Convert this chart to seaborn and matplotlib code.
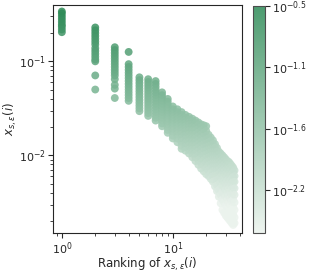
import numpy as np
import pandas as pd
import matplotlib
matplotlib.use("Agg")
import matplotlib.pyplot as plt
import seaborn as sns
from matplotlib.colors import Normalize, ListedColormap

# log10 of x_s,eps(i), one list per ranking position (1..36)
ranks = list(range(1, 37))
log_values = [
    [-0.47, -0.49, -0.52, -0.55, -0.58, -0.61, -0.63, -0.66, -0.69],
    [-0.64, -0.67, -0.70, -0.73, -0.76, -0.79, -0.82, -0.86, -0.89, -0.92, -0.95, -0.98, -1.00, -1.15, -1.30],
    [-0.85, -0.88, -0.91, -0.94, -0.97, -1.00, -1.03, -1.06, -1.09, -1.12, -1.15, -1.19, -1.25, -1.29, -1.39],
    [-0.90, -1.03, -1.06, -1.09, -1.12, -1.15, -1.18, -1.21, -1.24, -1.27, -1.30, -1.33, -1.36, -1.39, -1.42],
    [-1.17, -1.20, -1.23, -1.26, -1.29, -1.32, -1.35, -1.38, -1.41, -1.44, -1.47, -1.50, -1.53],
    [-1.19, -1.22, -1.25, -1.28, -1.31, -1.34, -1.37, -1.40, -1.43, -1.46, -1.49, -1.52, -1.55, -1.58],
    [-1.21, -1.24, -1.27, -1.30, -1.33, -1.36, -1.39, -1.42, -1.45, -1.48, -1.51, -1.54, -1.57, -1.60, -1.63],
    [-1.33, -1.36, -1.39, -1.42, -1.45, -1.48, -1.51, -1.54, -1.57, -1.60, -1.63, -1.66, -1.69],
    [-1.40, -1.43, -1.46, -1.49, -1.52, -1.55, -1.58, -1.61, -1.64, -1.67, -1.70, -1.73, -1.76],
    [-1.48, -1.51, -1.54, -1.57, -1.60, -1.63, -1.66, -1.69, -1.72, -1.75, -1.79, -1.82],
    [-1.51, -1.54, -1.57, -1.60, -1.63, -1.66, -1.69, -1.72, -1.75, -1.78, -1.82, -1.86],
    [-1.54, -1.57, -1.60, -1.63, -1.66, -1.69, -1.72, -1.75, -1.78, -1.82, -1.86, -1.90, -1.93],
    [-1.57, -1.60, -1.63, -1.66, -1.69, -1.72, -1.75, -1.79, -1.83, -1.87, -1.91, -1.95],
    [-1.59, -1.62, -1.65, -1.68, -1.71, -1.74, -1.78, -1.82, -1.86, -1.90, -1.94, -1.98],
    [-1.61, -1.64, -1.67, -1.70, -1.74, -1.78, -1.82, -1.86, -1.90, -1.94, -1.98, -2.02],
    [-1.63, -1.66, -1.70, -1.74, -1.78, -1.82, -1.86, -1.90, -1.94, -1.98, -2.02, -2.06],
    [-1.65, -1.68, -1.72, -1.76, -1.80, -1.84, -1.88, -1.92, -1.96, -2.00, -2.05, -2.10],
    [-1.67, -1.70, -1.74, -1.78, -1.82, -1.86, -1.90, -1.94, -1.98, -2.03, -2.08, -2.14],
    [-1.68, -1.72, -1.76, -1.80, -1.84, -1.88, -1.92, -1.96, -2.00, -2.05, -2.11, -2.17],
    [-1.69, -1.74, -1.79, -1.83, -1.87, -1.91, -1.95, -1.99, -2.03, -2.08, -2.14, -2.20],
    [-1.78, -1.82, -1.86, -1.90, -1.94, -1.98, -2.02, -2.06, -2.11, -2.16, -2.22],
    [-1.81, -1.85, -1.89, -1.93, -1.97, -2.01, -2.05, -2.09, -2.14, -2.19, -2.25],
    [-1.84, -1.88, -1.92, -1.96, -2.00, -2.04, -2.08, -2.12, -2.17, -2.22, -2.28],
    [-1.88, -1.92, -1.96, -2.00, -2.04, -2.08, -2.12, -2.16, -2.21, -2.27, -2.33],
    [-1.92, -1.96, -2.00, -2.04, -2.08, -2.12, -2.16, -2.21, -2.26, -2.32, -2.38],
    [-1.96, -2.00, -2.04, -2.08, -2.12, -2.16, -2.20, -2.25, -2.31, -2.37, -2.44],
    [-1.98, -2.02, -2.06, -2.10, -2.14, -2.18, -2.23, -2.29, -2.35, -2.42, -2.51],
    [-2.00, -2.04, -2.08, -2.12, -2.16, -2.21, -2.26, -2.32, -2.39, -2.47, -2.58],
    [-2.02, -2.06, -2.10, -2.14, -2.18, -2.23, -2.28, -2.34, -2.41, -2.50, -2.61],
    [-2.04, -2.08, -2.12, -2.16, -2.20, -2.25, -2.30, -2.37, -2.44, -2.53, -2.64],
    [-2.06, -2.10, -2.14, -2.18, -2.22, -2.27, -2.33, -2.40, -2.48, -2.57, -2.66],
    [-2.07, -2.11, -2.15, -2.20, -2.25, -2.30, -2.36, -2.43, -2.51, -2.60, -2.68],
    [-2.09, -2.13, -2.17, -2.22, -2.27, -2.33, -2.39, -2.46, -2.54, -2.63, -2.70],
    [-2.11, -2.15, -2.20, -2.25, -2.30, -2.36, -2.42, -2.49, -2.57, -2.66, -2.72],
    [-2.13, -2.18, -2.23, -2.28, -2.34, -2.40, -2.47, -2.55, -2.63, -2.70, -2.74],
    [-2.16, -2.22, -2.28, -2.35, -2.42, -2.50, -2.58, -2.66, -2.72],
]

cbar_ticks = [-0.5, -1.05, -1.6, -2.15]
cbar_labels = [r"$10^{-0.5}$", r"$10^{-1.1}$", r"$10^{-1.6}$", r"$10^{-2.2}$"]
color_min, color_max = -2.54, -0.5
alpha = 0.85

rows = [(r, v) for r, vals in zip(ranks, log_values) for v in vals]
df = pd.DataFrame(rows, columns=["rank", "logx"])
df["x"] = 10 ** df["logx"]

sns.set_style("ticks")
plt.rcParams["font.family"] = ["DejaVu Sans"]

cmap = sns.light_palette("seagreen", as_cmap=True)
norm = Normalize(color_min, color_max)

# colorbar shows the same colours as the translucent points on white
cols = cmap(np.linspace(0, 1, 256))
cols[:, :3] = alpha * cols[:, :3] + (1 - alpha)
cbar_cmap = ListedColormap(cols)

fig = plt.figure(figsize=(3.11, 2.73), dpi=100)
ax = fig.add_axes([0.170, 0.145, 0.608, 0.837])
cax = fig.add_axes([0.813, 0.145, 0.039, 0.833])

sns.scatterplot(data=df, x="rank", y="x", hue="logx", palette=cmap, hue_norm=norm,
                s=32, alpha=alpha, linewidth=0, legend=False, ax=ax)
ax.set_xscale("log")
ax.set_yscale("log")
ax.set_xlim(0.83, 42)
ax.set_ylim(10 ** -2.83, 10 ** -0.4)
ax.set_xlabel(r"Ranking of $x_{s,\varepsilon}(i)$", fontsize=8.5)
ax.xaxis.set_label_coords(0.5, -0.1)
ax.set_ylabel(r"$x_{s,\varepsilon}(i)$", fontsize=8.5, labelpad=0)
ax.tick_params(labelsize=8, pad=1.5)

sm = plt.cm.ScalarMappable(cmap=cbar_cmap, norm=norm)
cb = fig.colorbar(sm, cax=cax)
cb.set_ticks(cbar_ticks)
cb.set_ticklabels(cbar_labels)
cb.ax.tick_params(labelsize=8, pad=1.5)
cb.outline.set_edgecolor(".3")

fig.savefig("out.png", dpi=100)
